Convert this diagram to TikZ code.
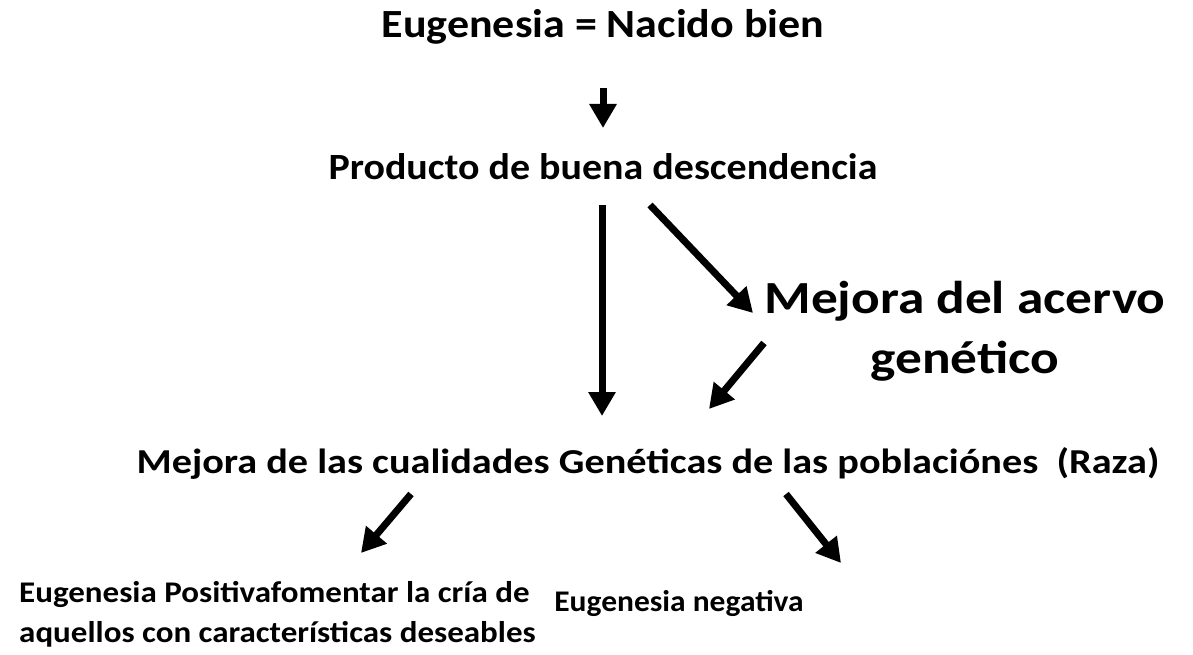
\documentclass[tikz,border=0pt]{standalone}
\usepackage{fontspec}
\setmainfont{Carlito}
\usetikzlibrary{arrows.meta}
\newcommand{\hs}[3]{\scalebox{#1}[1]{\fontsize{#2}{#2}\selectfont\bfseries #3}}
\tikzset{
  lbl/.style={inner sep=0pt, anchor=base},
  arr/.style={line width=7pt, -{Triangle[width=26pt,length=24pt]}}
}
\begin{document}
\begin{tikzpicture}[x=1pt,y=-1pt]
\useasboundingbox (0,0) rectangle (1193,655);
\node[lbl] (t1) at (603,38) {\hs{1.1}{40}{Eugenesia = Nacido bien}};
\node[lbl] (t2) at (603,180) {\hs{1.08}{37}{Producto de buena descendencia}};
\node[lbl] (t3) at (965,313) {\scalebox{1.16}[1]{\fontsize{46}{60}\selectfont\bfseries
  \begin{tabular}[t]{@{}c@{}}Mejora del acervo\\genético\end{tabular}}};
\node[lbl] (t4) at (648,473) {\hs{1.15}{35}{Mejora de las cualidades Genéticas de las poblaciónes\ \ (Raza)}};
\node[lbl, anchor=base west] (t5) at (19,602) {\scalebox{1.1}[1]{\fontsize{30}{40}\selectfont\bfseries
  \begin{tabular}[t]{@{}l@{}}Eugenesia Positivafomentar la cría de\\aquellos con características deseables\end{tabular}}};
\node[lbl] (t6) at (679,611) {\hs{1.05}{30}{Eugenesia negativa}};
\coordinate (a1s) at (603,88);  \coordinate (a1e) at (603,128);
\coordinate (a2s) at (602,205); \coordinate (a2e) at (602,416);
\coordinate (a3s) at (650,205); \coordinate (a3e) at (753,313);
\coordinate (a4s) at (764,343); \coordinate (a4e) at (709,409);
\coordinate (a5s) at (411,494); \coordinate (a5e) at (361,553);
\coordinate (a6s) at (786,494); \coordinate (a6e) at (841,563);
\draw[arr] (a1s) -- (a1e);
\draw[arr] (a2s) -- (a2e);
\draw[arr] (a3s) -- (a3e);
\draw[arr] (a4s) -- (a4e);
\draw[arr] (a5s) -- (a5e);
\draw[arr] (a6s) -- (a6e);
\end{tikzpicture}
\end{document}
